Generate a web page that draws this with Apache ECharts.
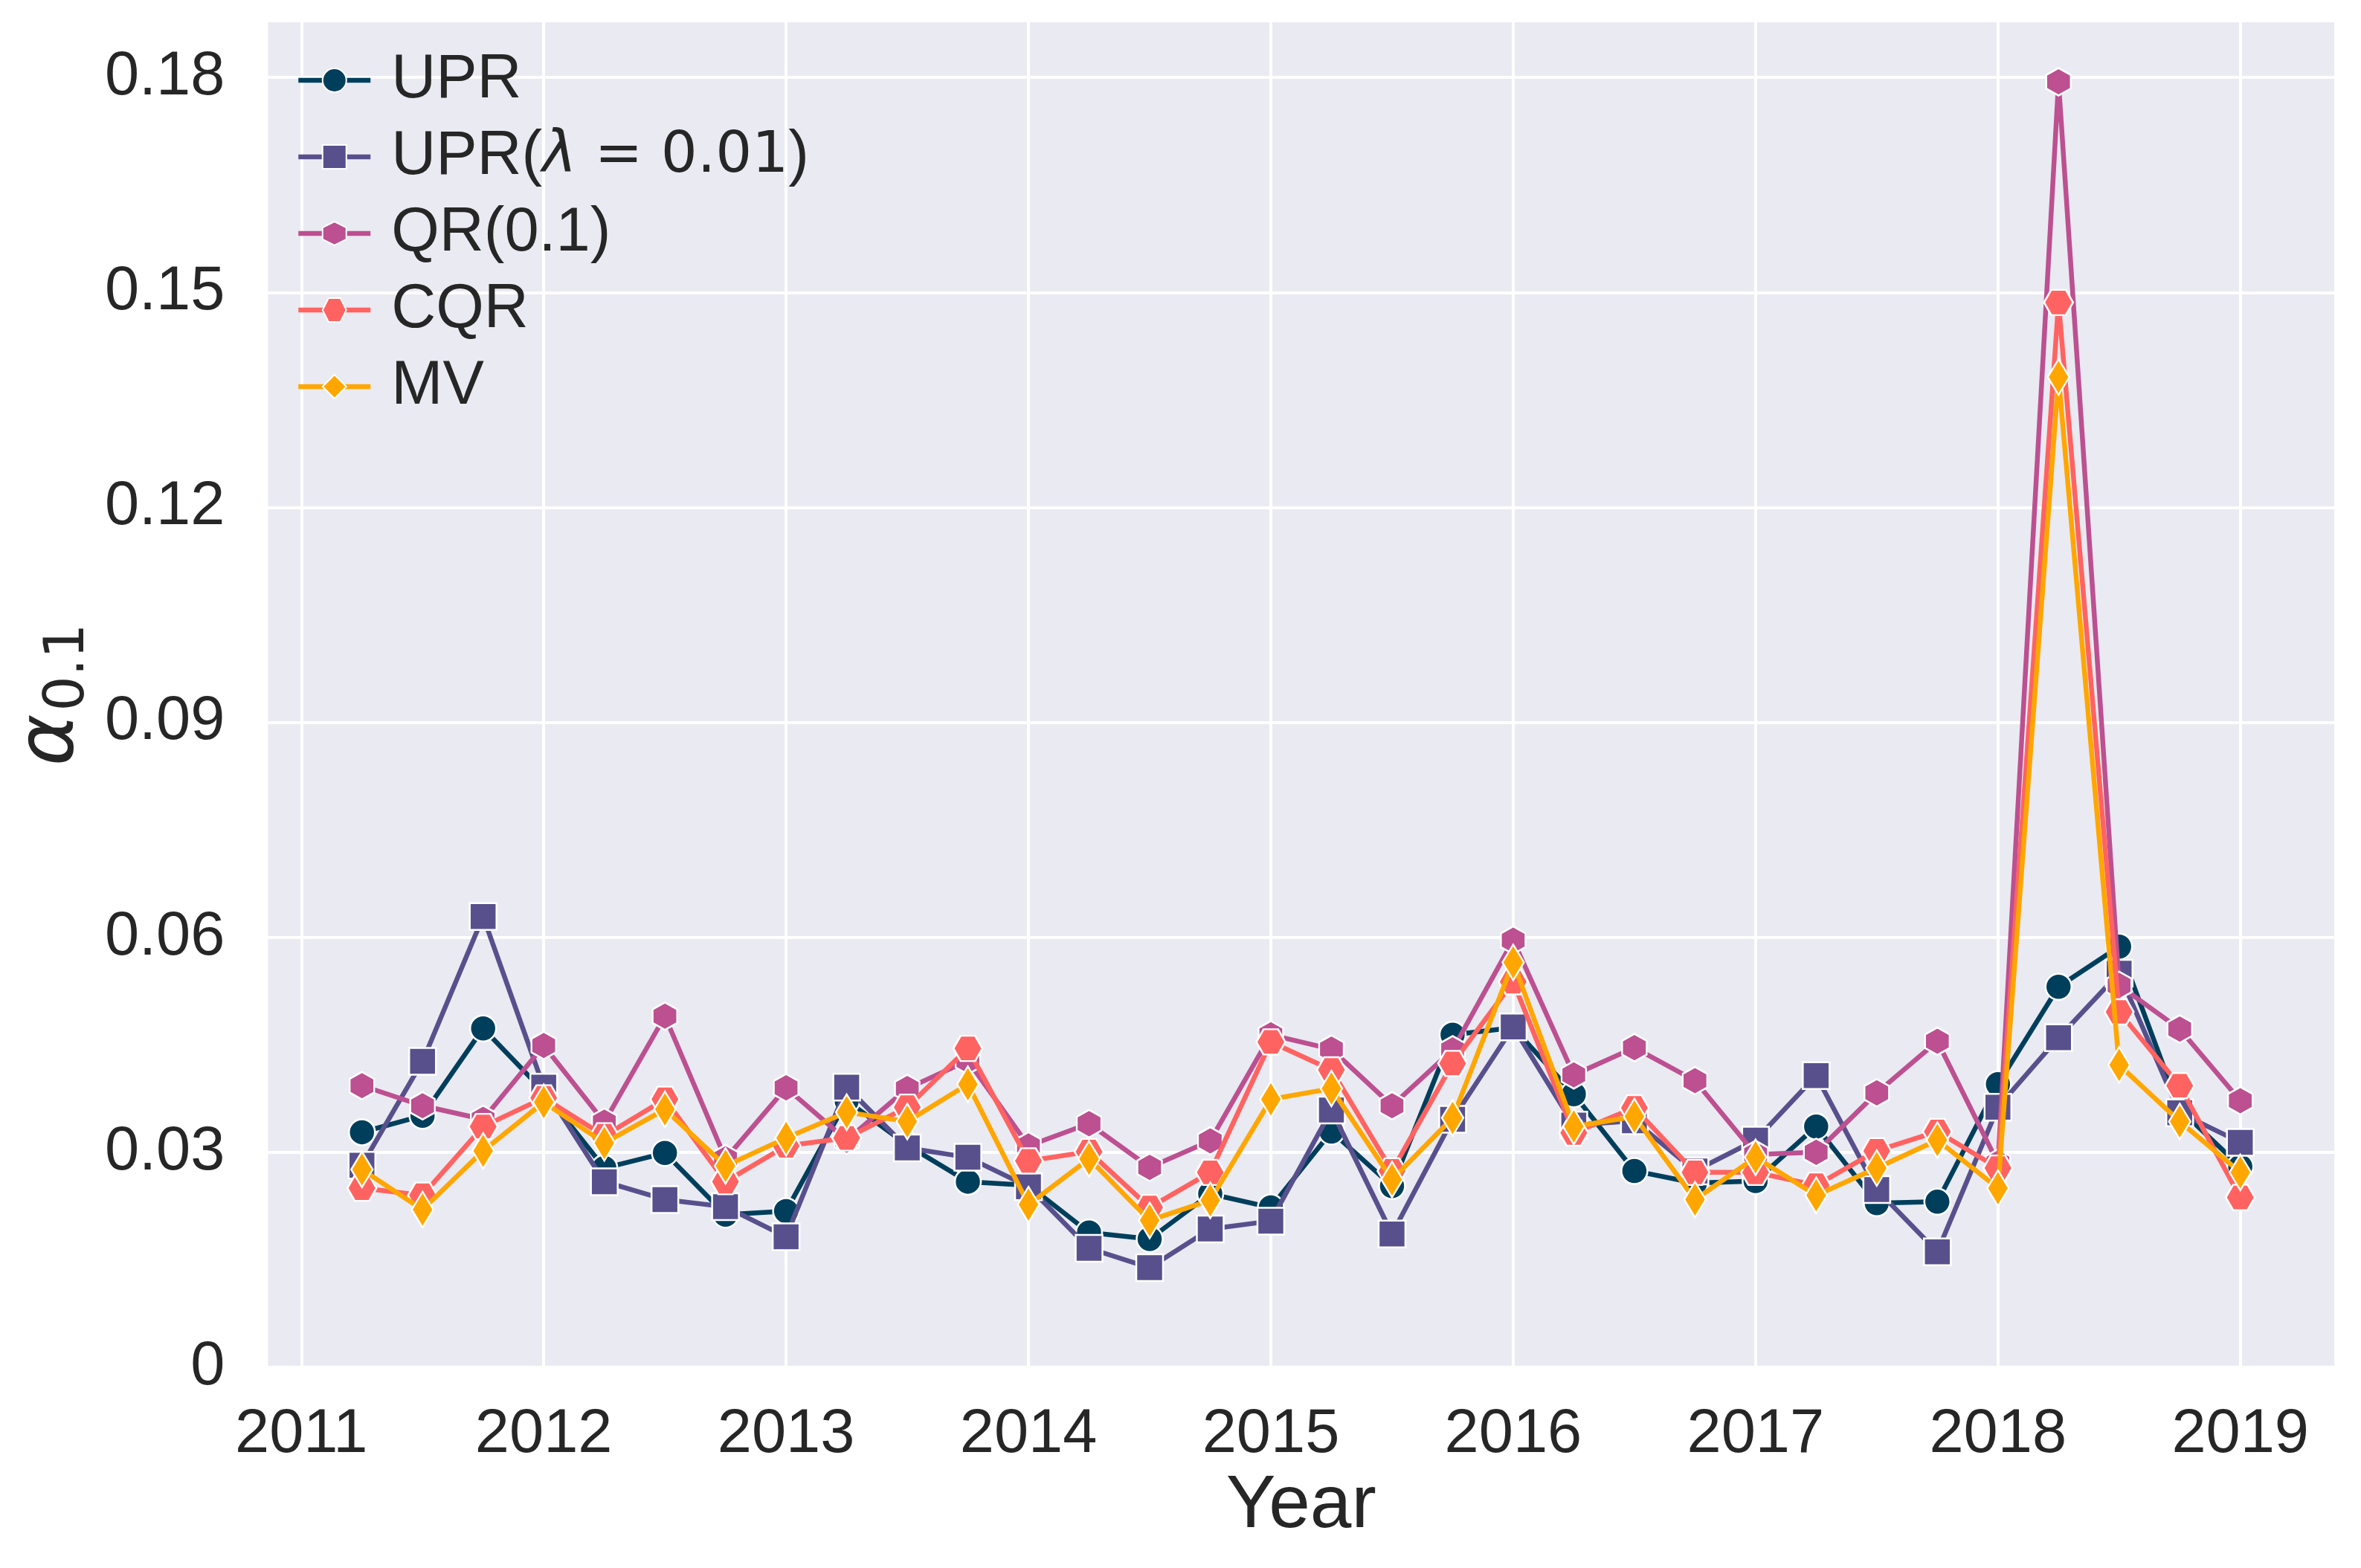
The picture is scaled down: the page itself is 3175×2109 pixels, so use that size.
<!DOCTYPE html>
<html><head><meta charset="utf-8">
<script src="https://cdn.jsdelivr.net/npm/echarts@6/dist/echarts.min.js"></script>
<style>html,body{margin:0;padding:0;background:#fff}#c{width:3175px;height:2109px}</style>
</head><body><div id="c"></div>
<script>
const quarters = [2011.25,2011.5,2011.75,2012.0,2012.25,2012.5,2012.75,2013.0,
  2013.25,2013.5,2013.75,2014.0,2014.25,2014.5,2014.75,2015.0,
  2015.25,2015.5,2015.75,2016.0,2016.25,2016.5,2016.75,2017.0,
  2017.25,2017.5,2017.75,2018.0,2018.25,2018.5,2018.75,2019.0];
const xTicks = [2011,2012,2013,2014,2015,2016,2017,2018,2019];
const yTicks = [0,0.03,0.06,0.09,0.12,0.15,0.18];
const seriesNames = ['UPR','UPR(λ = 0.01)','QR(0.1)','CQR','MV'];
const upr = [0.0328,0.0351,0.0473,0.0385,0.0278,0.0299,0.0213,0.0218,
  0.0372,0.0310,0.0259,0.0254,0.0188,0.0179,0.0242,0.0223,
  0.0329,0.0253,0.0464,0.0474,0.0381,0.0274,0.0257,0.0260,
  0.0336,0.0229,0.0231,0.0395,0.0531,0.0587,0.0360,0.0280];
const uprLambda = [0.0282,0.0427,0.0629,0.0391,0.0259,0.0234,0.0224,0.0182,
  0.0391,0.0306,0.0293,0.0252,0.0166,0.0139,0.0193,0.0204,
  0.0359,0.0186,0.0346,0.0475,0.0338,0.0344,0.0274,0.0317,
  0.0407,0.0248,0.0161,0.0363,0.0460,0.0550,0.0355,0.0314];
const qr = [0.0393,0.0365,0.0346,0.0449,0.0342,0.0490,0.0291,0.0390,
  0.0317,0.0389,0.0428,0.0309,0.0340,0.0279,0.0316,0.0464,
  0.0444,0.0365,0.0443,0.0596,0.0408,0.0446,0.0400,0.0297,
  0.0300,0.0383,0.0455,0.0285,0.1794,0.0533,0.0472,0.0372];
const cqr = [0.0250,0.0240,0.0336,0.0376,0.0323,0.0374,0.0259,0.0309,
  0.0320,0.0363,0.0445,0.0288,0.0301,0.0223,0.0272,0.0454,
  0.0415,0.0274,0.0424,0.0538,0.0327,0.0362,0.0272,0.0272,
  0.0254,0.0302,0.0329,0.0278,0.1486,0.0496,0.0393,0.0237];
const mv = [0.0276,0.0220,0.0302,0.0370,0.0313,0.0360,0.0281,0.0320,
  0.0356,0.0343,0.0395,0.0227,0.0291,0.0205,0.0233,0.0374,
  0.0389,0.0262,0.0348,0.0565,0.0336,0.0350,0.0234,0.0293,
  0.0240,0.0278,0.0317,0.0250,0.1382,0.0422,0.0343,0.0272];

const colors = ['#003f5c','#58508d','#bc5090','#ff6361','#ffa600'];
const hexPointy = 'path://M0,-100L86.6,-50L86.6,50L0,100L-86.6,50L-86.6,-50Z';
const hexFlat = 'path://M-100,0L-50,-86.6L50,-86.6L100,0L50,86.6L-50,86.6Z';
const symbols = ['circle','rect',hexPointy,hexFlat,'diamond'];
const symbolSizes = [35,36,[33,37],[39,34],[29,48]];
const values = [upr,uprLambda,qr,cqr,mv];

const FONT = '"Liberation Sans", Arial, Helvetica, sans-serif';
const chart = echarts.init(document.getElementById('c'));
const series = values.map((arr,k)=>({
  name: seriesNames[k], type:'line',
  data: quarters.map((q,i)=>[q, arr[i]]),
  symbol: symbols[k], symbolSize: symbolSizes[k],
  showAllSymbol: true,
  lineStyle:{width:6.5,color:colors[k]},
  itemStyle:{color:colors[k],borderColor:'#ffffff',borderWidth:2.5},
  emphasis:{disabled:true},
  z: 2+k
}));

chart.setOption({
  animation:false,
  backgroundColor:'#ffffff',
  grid:{left:358,right:36,top:30,bottom:270,show:true,backgroundColor:'#EAEAF2',borderWidth:0},
  legend:{
    orient:'vertical', left:393, top:58, itemWidth:97, itemHeight:40, itemGap:13,
    data: seriesNames,
    lineStyle:{width:6.5},
    textStyle:{fontFamily:FONT,fontSize:83,color:'#262626',lineHeight:90,padding:[0,0,0,23],
      rich:{
        n:{fontFamily:FONT,fontSize:83,color:'#262626',lineHeight:90},
        l:{fontFamily:'"DejaVu Sans"',fontStyle:'italic',fontSize:78,color:'#262626',lineHeight:90},
        m:{fontFamily:'"DejaVu Sans"',fontSize:77,color:'#262626',lineHeight:90}
      }},
    formatter: function(name){
      if(name==='UPR(λ = 0.01)') return '{n|UPR(}{l|λ}{m| = 0.01}{n|)}';
      return '{n|'+name+'}';
    }
  },
  xAxis:{
    type:'value', min:2010.8625, max:2019.3875,
    name:'Year', nameLocation:'middle', nameGap:136,
    nameTextStyle:{fontFamily:FONT,fontSize:100,color:'#262626'},
    axisLine:{show:false}, axisTick:{show:false,customValues:xTicks},
    axisLabel:{customValues:xTicks,fontFamily:FONT,fontSize:83,color:'#262626',margin:50,
      formatter:v=>String(Math.round(v))},
    splitLine:{show:true,customValues:xTicks,lineStyle:{color:'#ffffff',width:4}}
  },
  yAxis:{
    type:'value', min:0, max:0.1877,
    name:'{a|α}{s|0.1}', nameLocation:'middle', nameGap:230, nameRotate:90,
    nameTextStyle:{
      rich:{
        a:{fontFamily:'"DejaVu Sans"',fontStyle:'italic',fontSize:106,color:'#262626',lineHeight:120},
        s:{fontFamily:'"DejaVu Sans"',fontSize:74,color:'#262626',lineHeight:74,padding:[48,0,0,4]}
      }},
    axisLine:{show:false}, axisTick:{show:false,customValues:yTicks},
    axisLabel:{customValues:yTicks,fontFamily:FONT,fontSize:83,color:'#262626',margin:58,
      formatter:v=>(v===0?'0':v.toFixed(2))},
    splitLine:{show:true,customValues:yTicks,lineStyle:{color:'#ffffff',width:4}}
  },
  series: series
});
</script></body></html>
